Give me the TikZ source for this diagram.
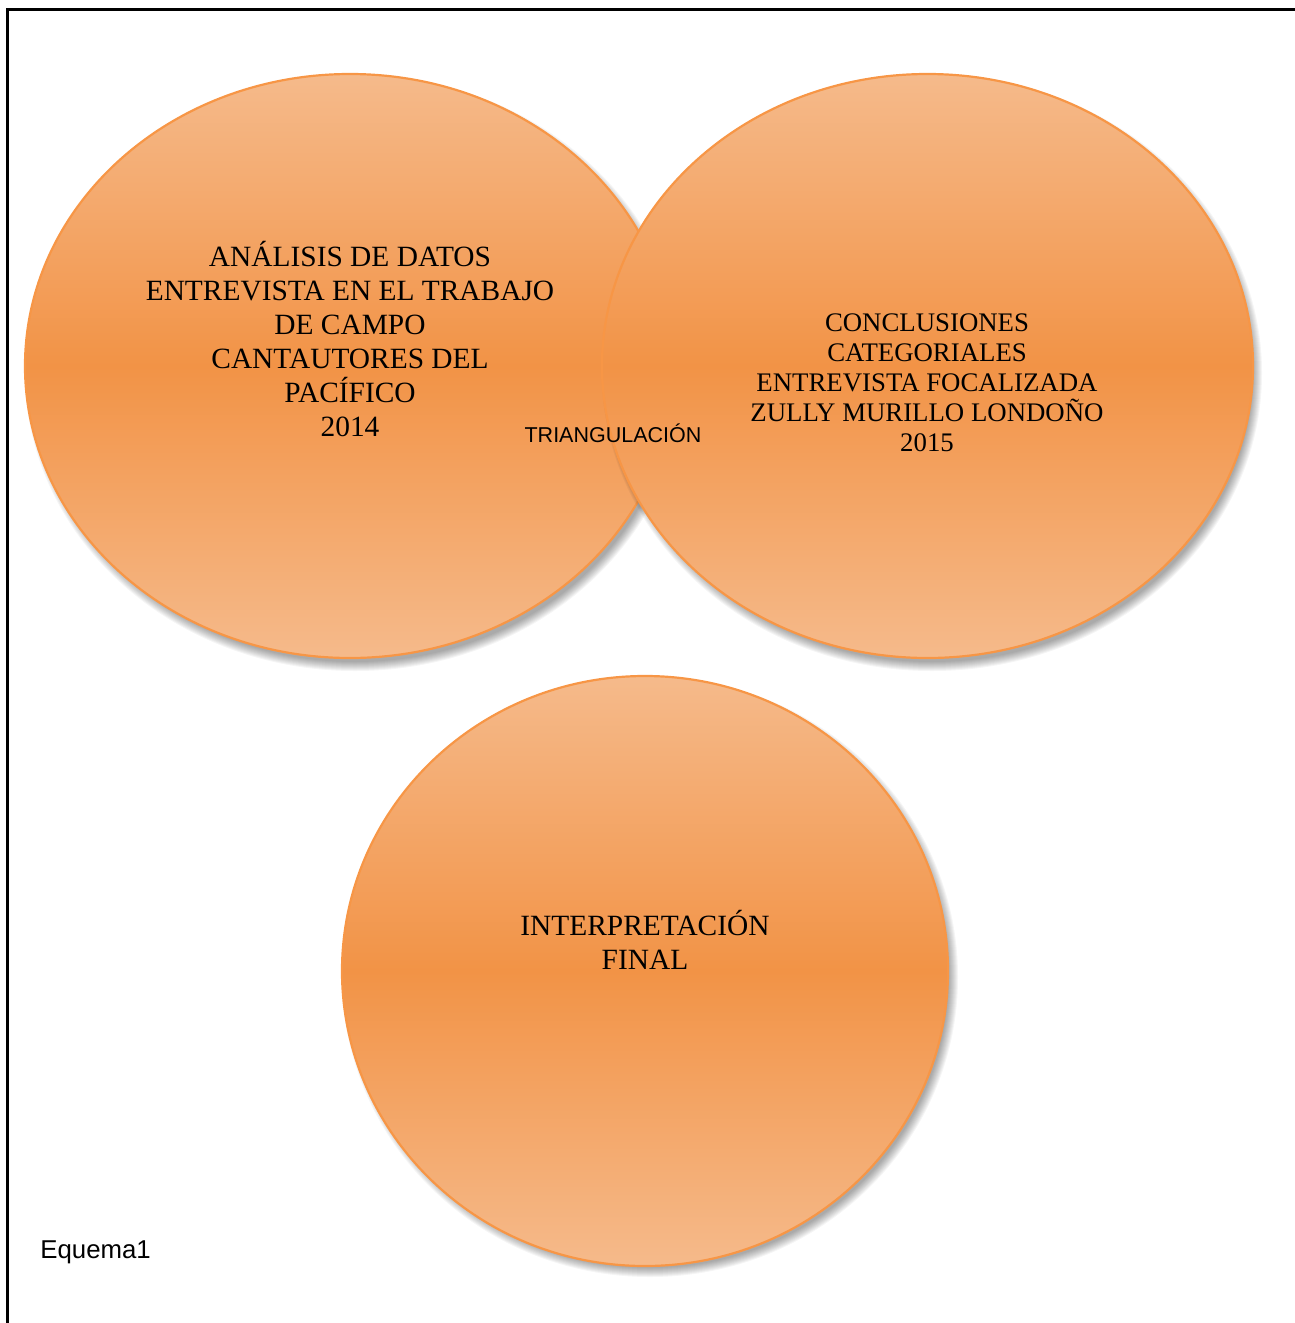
\documentclass[tikz,border=0pt]{standalone}
\usepackage{fontspec}
\setmainfont{Liberation Serif}
\newfontfamily\arialf{Liberation Sans}
\usetikzlibrary{shapes.geometric}
\definecolor{orlight}{RGB}{245,186,139}
\definecolor{ordark}{RGB}{242,147,70}
\definecolor{orline}{RGB}{247,150,70}
\begin{document}
\begin{tikzpicture}[x=0.5pt,y=-0.5pt,
  bubble/.style={ellipse, draw=orline, line width=1.1pt, top color=orlight,
    bottom color=orlight, middle color=ordark, inner sep=0pt},
  bigtext/.style={align=center, text=black, font=\fontsize{14.7}{17}\selectfont},
  midtext/.style={align=center, text=black, font=\fontsize{13.4}{15}\selectfont},
  sanstext/.style={text=black, inner sep=0pt}]
\useasboundingbox (0,0) rectangle (1295,1323);
% frame (left and top edges)
\draw[line width=1.5pt] (7,1323) -- (7,9) -- (1295,9);
% shadows and bubbles
\foreach \i in {0,...,9}{\fill[black,opacity=0.04] (355,373) ellipse [x radius=330-\i, y radius=298-\i];}
\node[bubble, minimum width=325pt, minimum height=292pt] (left) at (350,366) {};
\foreach \i in {0,...,9}{\fill[black,opacity=0.04] (932,373) ellipse [x radius=330-\i, y radius=298-\i];}
\node[bubble, minimum width=325.5pt, minimum height=292pt] (right) at (927.5,366) {};
\foreach \i in {0,...,9}{\fill[black,opacity=0.04] (650,977) ellipse [x radius=308-\i, y radius=300-\i];}
\node[bubble, minimum width=303pt, minimum height=295pt] (bottom) at (645,971) {};
% texts
\node[bigtext] (lefttext) at (350,339) {ANÁLISIS DE DATOS\\ENTREVISTA EN EL TRABAJO\\DE CAMPO\\CANTAUTORES DEL\\PACÍFICO\\2014};
\node[midtext] (righttext) at (927,383) {CONCLUSIONES\\CATEGORIALES\\ENTREVISTA FOCALIZADA\\ZULLY MURILLO LONDOÑO\\2015};
\node[bigtext] (bottomtext) at (645,940) {INTERPRETACIÓN\\FINAL};
\node[sanstext, font=\arialf\fontsize{10.75}{12}\selectfont] (tri) at (613,433) {TRIANGULACIÓN};
\node[sanstext, anchor=west, font=\arialf\fontsize{12.9}{15}\selectfont] (cap) at (40,1252) {Equema1};
\end{tikzpicture}
\end{document}
